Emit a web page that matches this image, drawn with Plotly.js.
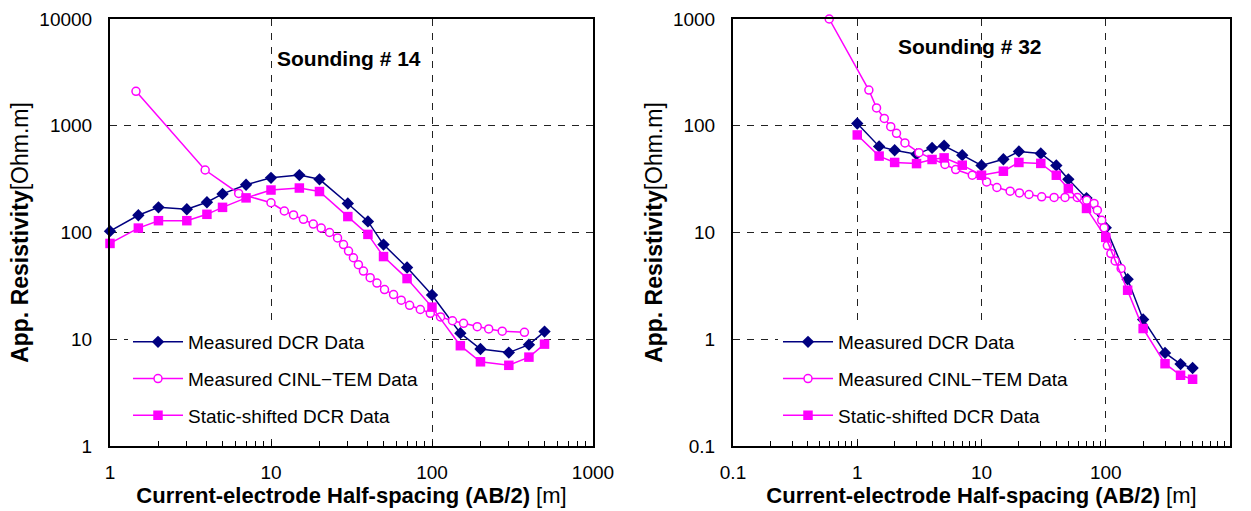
<!DOCTYPE html>
<html>
<head>
<meta charset="utf-8">
<script src="https://cdn.plot.ly/plotly-3.0.1.min.js"></script>
<style>html,body{margin:0;padding:0;background:#fff;}#chart{width:1251px;height:511px;}</style>
</head>
<body>
<div id="chart"></div>
<script>
// ---- Sounding # 14 ----
const abDcr14 = [1,1.5,2,3,4,5,7,10,15,20,30,40,50,70,100,150,200,300,400,500];
const rhoDcr14 = [103,145,172,165,192,230,280,325,345,315,187,127,77,47,26,11.4,8.1,7.5,8.9,11.8];
const rhoStatic14 = [79,110,129,129,148,172,211,250,261,242,141,96,59.5,37,20,8.7,6.15,5.7,6.8,9.0];
const abTem14 = [1.45,3.9,6.3,10,12.1,13.8,15.9,18.3,20.5,23.1,25.9,28.2,30.3,32.5,34.9,37.5,41.3,45.5,50.7,57.7,64.4,72.6,84.6,97.6,113,134,157,191,225,273,375];
const rhoTem14 = [2100,385,232,190,159,146,133,120,110,100,89,77,67,58,50,43.5,37.7,33.6,29.2,26.2,23.2,20.8,19.0,17.5,16.2,14.9,14.1,13.1,12.5,11.9,11.6];

// ---- Sounding # 32 ----
const abDcr32 = [1,1.5,2,3,4,5,7,10,15,20,30,40,50,70,100,150,200,300,400,500];
const rhoDcr32 = [105,64,59,54,62,65,53,42.5,48.5,57.5,55,42.5,31.5,21,11.1,3.65,1.53,0.745,0.585,0.538];
const rhoStatic32 = [82,52,45.3,44.2,48.3,50,42.7,34.4,37.5,45.3,44.4,34.4,25.8,16.8,9.0,2.88,1.26,0.59,0.46,0.422];
const abTem32 = [0.595,1.24,1.43,1.65,1.86,2.07,2.42,3.14,5.08,6.2,8.43,11.0,13.3,17.0,20.2,24.1,30.5,38.4,47,59,70.3,80.5,85.6,92.8,96.9,100,103,110,119,133];
const rhoTem32 = [1000,216,147,117,98,85,69,56,43.4,38.9,34.4,29.8,26.4,24.4,23.5,22.7,21.6,21.3,21.3,21.3,20.1,18.7,16.2,13.0,11.1,9.2,7.55,6.35,5.42,4.6];

// ---- labels ----
const seriesNames = ["Measured DCR Data", "Measured CINL\u2212TEM Data", "Static-shifted DCR Data"];
const titles = ["Sounding # 14", "Sounding # 32"];
const xTickVals14 = [1,10,100,1000], xTickText14 = ["1","10","100","1000"];
const yTickVals14 = [1,10,100,1000,10000], yTickText14 = ["1","10","100","1000","10000"];
const xTickVals32 = [0.1,1,10,100,1000], xTickText32 = ["0.1","1","10","100","1000"];
const yTickVals32 = [0.1,1,10,100,1000], yTickText32 = ["0.1","1","10","100","1000"];
const xTitle = "<b>Current-electrode Half-spacing (AB/2)</b> [m]";
const yTitle = "<b>App. Resistivity</b>[Ohm.m]";

const NAVY = "#000080", MAG = "#FF00FF";
const FONT = "'Liberation Sans', Arial, sans-serif";

function traces(xd, yd, xt, yt, ys, xa, ya, leg, g) {
  return [
    {x: xd, y: yd, type: "scatter", mode: "lines+markers", name: seriesNames[0],
     xaxis: xa, yaxis: ya, legend: leg, legendgroup: g + "a", cliponaxis: false,
     line: {color: NAVY, width: 1.5}, marker: {symbol: "diamond", size: 9.5, color: NAVY}},
    {x: xt, y: yt, type: "scatter", mode: "lines+markers", name: seriesNames[1],
     xaxis: xa, yaxis: ya, legend: leg, legendgroup: g + "b", cliponaxis: false,
     line: {color: MAG, width: 1.5}, marker: {symbol: "circle", size: 8, color: "#fff", line: {color: MAG, width: 1.5}}},
    {x: xd, y: ys, type: "scatter", mode: "lines+markers", name: seriesNames[2],
     xaxis: xa, yaxis: ya, legend: leg, legendgroup: g + "c", cliponaxis: false,
     line: {color: MAG, width: 1.5}, marker: {symbol: "square", size: 9.5, color: MAG}}
  ];
}

const data = [].concat(
  traces(abDcr14, rhoDcr14, abTem14, rhoTem14, rhoStatic14, "x", "y", "legend", "L"),
  traces(abDcr32, rhoDcr32, abTem32, rhoTem32, rhoStatic32, "x2", "y2", "legend2", "R")
);

function xAxis(dom, rng, tv, tt, anchor) {
  return {
    type: "log", domain: dom, range: rng, anchor: anchor,
    tickvals: tv, ticktext: tt, ticks: "inside", ticklen: 5, tickcolor: "#000",
    minor: {ticks: "inside", ticklen: 5, tickcolor: "#000", dtick: "D1", showgrid: false},
    showline: true, linecolor: "#000", linewidth: 2, mirror: true,
    showgrid: true, gridcolor: "#222", gridwidth: 1, griddash: "7px,7px",
    zeroline: false, ticklabelstandoff: 8,
    tickfont: {family: FONT, size: 19, color: "#000"},
    title: {text: xTitle, font: {family: FONT, size: 22, color: "#000"}, standoff: 6}
  };
}
function yAxis(dom, rng, tv, tt, anchor) {
  return {
    type: "log", domain: dom, range: rng, anchor: anchor,
    tickvals: tv, ticktext: tt, ticks: "",
    showline: true, linecolor: "#000", linewidth: 2, mirror: true,
    showgrid: true, gridcolor: "#222", gridwidth: 1, griddash: "7px,7px",
    zeroline: false, ticklabelstandoff: 12,
    tickfont: {family: FONT, size: 19, color: "#000"},
    title: {text: yTitle, font: {family: FONT, size: 23, color: "#000"}, standoff: 4}
  };
}

const yDom = [1 - 446/511, 1 - 19/511];
const legendCommon = {
  bgcolor: "#fff", borderwidth: 0, font: {family: FONT, size: 19, color: "#000"},
  tracegroupgap: 9, traceorder: "grouped", xanchor: "left", yanchor: "top", itemwidth: 50
};

const layout = {
  width: 1251, height: 511,
  margin: {l: 0, r: 0, t: 0, b: 0},
  paper_bgcolor: "#fff", plot_bgcolor: "#fff",
  font: {family: FONT, color: "#000"},
  xaxis: xAxis([110/1251, 593/1251], [0, 3], xTickVals14, xTickText14, "y"),
  yaxis: yAxis(yDom, [0, 4], yTickVals14, yTickText14, "x"),
  xaxis2: xAxis([733/1251, 1230/1251], [-1, 3], xTickVals32, xTickText32, "y2"),
  yaxis2: yAxis(yDom, [-1, 3], yTickVals32, yTickText32, "x2"),
  legend: Object.assign({x: 128/1251, y: 1 - 323/511}, legendCommon),
  legend2: Object.assign({x: 778/1251, y: 1 - 323/511}, legendCommon),
  annotations: [
    {text: "<b>" + titles[0] + "</b>", xref: "paper", yref: "paper", x: 349/1251, y: 1 - 58/511,
     showarrow: false, xanchor: "center", yanchor: "middle", font: {family: FONT, size: 21, color: "#000"}},
    {text: "<b>" + titles[1] + "</b>", xref: "paper", yref: "paper", x: 970/1251, y: 1 - 46/511,
     showarrow: false, xanchor: "center", yanchor: "middle", font: {family: FONT, size: 21, color: "#000"}}
  ],
  showlegend: true
};

Plotly.newPlot("chart", data, layout, {staticPlot: true, displayModeBar: false});
</script>
</body>
</html>
